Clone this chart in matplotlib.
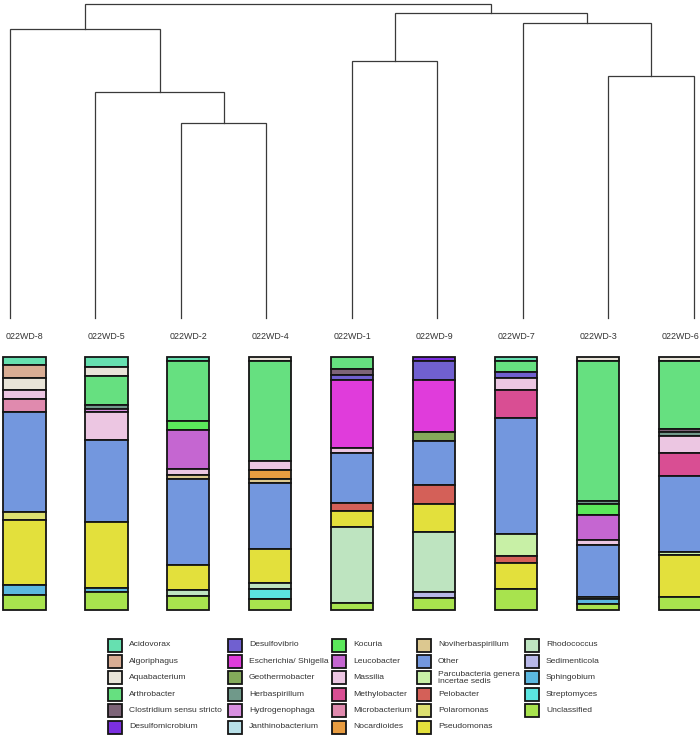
import matplotlib
matplotlib.use('Agg')
import matplotlib.pyplot as plt
from matplotlib.patches import Rectangle
from matplotlib import font_manager
import matplotlib.transforms as mtransforms
import numpy as np

# ---------------- data ----------------
samples = ['022WD-8', '022WD-5', '022WD-2', '022WD-4', '022WD-1',
           '022WD-9', '022WD-7', '022WD-3', '022WD-6']

taxa = ['Acidovorax', 'Algoriphagus', 'Aquabacterium', 'Arthrobacter',
        'Clostridium sensu stricto', 'Desulfomicrobium', 'Desulfovibrio',
        'Escherichia/ Shigella', 'Geothermobacter', 'Herbaspirillum',
        'Hydrogenophaga', 'Janthinobacterium', 'Kocuria', 'Leucobacter',
        'Massilia', 'Methylobacter', 'Microbacterium', 'Nocardioides',
        'Noviherbaspirillum', 'Other', 'Parcubacteria genera\nincertae sedis',
        'Pelobacter', 'Polaromonas', 'Pseudomonas', 'Rhodococcus',
        'Sedimenticola', 'Sphingobium', 'Streptomyces', 'Unclassified']

taxa_colors = ['#66E0B0', '#D9AD94', '#E8E4D8', '#66E080', '#7D6478',
               '#7B2FE0', '#7060D0', '#E03CDB', '#84AA5A', '#70998A',
               '#D98FE0', '#B8E0E8', '#5BE85B', '#C566D1', '#ECC6E2',
               '#D94E93', '#E08AAE', '#E89C40', '#DCC890', '#7397DE',
               '#C8F0A6', '#D46058', '#DDE070', '#E3E03C', '#BEE4C0',
               '#B8B8E8', '#5BB8E0', '#5BE5E0', '#A8E34E']

# relative abundance (%) per sample, in the taxa order above
wd8 = [3.3, 4.9, 4.7, 0, 0, 0, 0, 0, 0, 0, 0, 0, 0, 0, 3.8, 0, 5.0, 0, 0,
       39.6, 0, 0, 3.3, 25.5, 0, 0, 4.0, 0, 5.9]
wd5 = [4.0, 0, 3.7, 11.2, 0, 0, 0, 0, 0, 1.7, 1.3, 0, 0, 0, 10.8, 0, 0, 0, 0,
       32.6, 0, 0, 0, 25.9, 0, 0, 1.8, 0, 7.0]
wd2 = [1.7, 0, 0, 23.6, 0, 0, 0, 0, 0, 0, 0, 0, 3.4, 15.7, 2.1, 0, 0, 0, 1.7,
       33.8, 0, 0, 0, 10.0, 2.5, 0, 0, 0, 5.4]
wd4 = [0, 0, 1.7, 39.4, 0, 0, 0, 0, 0, 0, 0, 0, 0, 0, 3.7, 0, 0, 3.4, 1.5,
       26.3, 0, 0, 0, 13.3, 2.5, 0, 0, 3.8, 4.4]
wd1 = [0, 0, 0, 4.9, 2.1, 0, 2.1, 26.9, 0, 0, 0, 0, 0, 0, 2.0, 0, 0, 0, 0,
       19.8, 0, 2.9, 0, 6.3, 30.2, 0, 0, 0, 2.8]
wd9 = [0, 0, 0, 0, 0, 1.7, 7.5, 20.3, 3.6, 0, 0, 0, 0, 0, 0, 0, 0, 0, 0,
       17.5, 0, 7.3, 0, 11.1, 23.6, 2.6, 0, 0, 4.7]
wd7 = [1.7, 0, 0, 4.4, 0, 0, 2.2, 0, 0, 0, 0, 0, 0, 0, 4.9, 10.9, 0, 0, 0,
       45.8, 8.6, 2.8, 0, 10.3, 0, 0, 0, 0, 8.4]
wd3 = [0, 0, 1.7, 55.3, 0, 0, 0, 0, 0, 1.2, 0, 0, 4.4, 9.8, 2.0, 0, 0, 0, 0,
       20.4, 0, 0, 0, 0, 1.0, 0, 1.8, 0, 2.4]
wd6 = [0, 0, 1.6, 27.0, 1.1, 0, 0, 0, 0, 1.7, 0, 0, 0, 0, 6.5, 9.0, 0, 0, 0,
       30.2, 1.3, 0, 0, 16.6, 0, 0, 0, 0, 5.0]

# dendrogram merges: (child_a, child_b, height); leaves are 0..8 in display order,
# merged nodes get ids 9, 10, ...
merges = [(2, 3, 0.621),
          (1, 9, 0.720),
          (0, 10, 0.920),
          (4, 5, 0.818),
          (7, 8, 0.771),
          (6, 13, 0.939),
          (12, 14, 0.971),
          (11, 15, 1.000)]

# ---------------- fonts ----------------
names = {f.name for f in font_manager.fontManager.ttflist}
if 'Liberation Sans Narrow' in names:
    FONT, LAB_FS, LEG_FS = 'Liberation Sans Narrow', 7.6, 7.3
else:
    FONT, LAB_FS, LEG_FS = 'Liberation Sans', 6.4, 6.1
plt.rcParams['font.family'] = [FONT, 'DejaVu Sans']

W, H = 700, 736
fig = plt.figure(figsize=(W / 100, H / 100), dpi=100)
fig.patch.set_facecolor('white')

# ---------------- dendrogram ----------------
axd = fig.add_axes([0, 1 - 318 / H, 1, 314 / H])
spacing_d = (694 - 9.9) / 8
axd.set_xlim(-9.9 / spacing_d, (W - 9.9) / spacing_d)
axd.set_ylim(0, 1.0)
axd.axis('off')

n = len(samples)
pos = {i: (float(i), 0.0) for i in range(n)}
for k, (a, b, h) in enumerate(merges):
    xa, ya = pos[a]
    xb, yb = pos[b]
    axd.plot([xa, xa, xb, xb], [ya, h, h, yb], color='#3a3a3a', lw=0.9,
             clip_on=False, solid_joinstyle='miter')
    pos[n + k] = ((xa + xb) / 2, h)

# ---------------- stacked bars ----------------
axb = fig.add_axes([0, 1 - 610 / H, 1, 253 / H])
spacing_b = (680 - 24.5) / 8
axb.set_xlim(-24.5 / spacing_b, (W - 24.5) / spacing_b)
axb.set_ylim(0, 100)
axb.axis('off')

data = np.array([wd8, wd5, wd2, wd4, wd1, wd9, wd7, wd3, wd6], dtype=float)
data = data / data.sum(axis=1, keepdims=True) * 100
x = np.arange(n)
top = np.full(n, 100.0)
for j, (name, col) in enumerate(zip(taxa, taxa_colors)):
    vals = data[:, j]
    bottom = top - vals
    mask = vals > 0
    axb.bar(x[mask], vals[mask], bottom=bottom[mask], width=0.515,
            color=col, edgecolor='#151515', linewidth=1.3, clip_on=False)
    top = bottom

# sample labels
tr = mtransforms.blended_transform_factory(axb.transData, fig.transFigure)
for i, s in enumerate(samples):
    fig.text(i, 1 - 337 / H, s, transform=tr, ha='center', va='center',
             fontsize=LAB_FS, color='#333333')

# ---------------- legend ----------------
axl = fig.add_axes([0, 0, 1, 1], zorder=-1)
axl.set_xlim(0, W)
axl.set_ylim(H, 0)
axl.axis('off')
col_x = [108, 228, 332, 417, 525]
row_y0, row_step, nrows = 645, 16.4, 6
pw, ph = 14, 13
for i, (name, col) in enumerate(zip(taxa, taxa_colors)):
    c, r = divmod(i, nrows)
    cx = col_x[c]
    cy = row_y0 + r * row_step
    axl.add_patch(Rectangle((cx, cy - ph / 2), pw, ph, facecolor=col,
                            edgecolor='#151515', linewidth=1.3))
    axl.text(cx + pw + 7, cy, name, ha='left', va='center', fontsize=LEG_FS,
             color='#333333', linespacing=0.95)

fig.savefig('out.png', dpi=100, facecolor='white')
